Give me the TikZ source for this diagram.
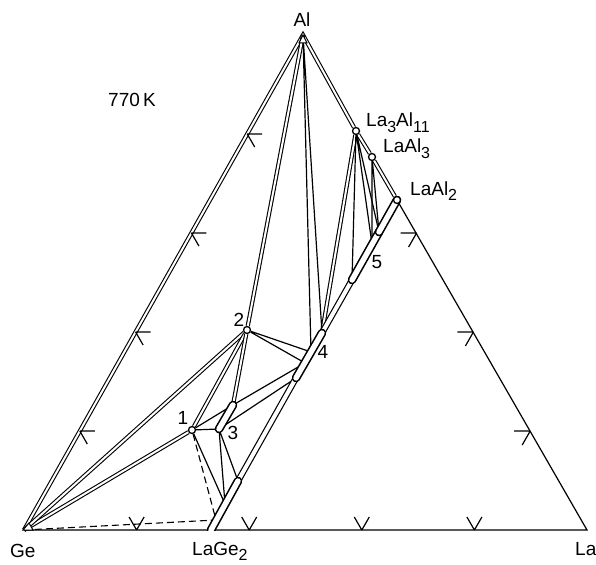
\documentclass[tikz,border=0pt]{standalone}
\usepackage{fontspec}
\setmainfont{Liberation Sans}
\usetikzlibrary{calc,backgrounds}
\newcommand{\lsub}[1]{\raisebox{-0.55ex}{\fontsize{16}{18}\selectfont#1}}
\tikzset{
  side/.style={line width=1.2pt},
  tie/.style={double,line width=1.1pt,double distance=2pt},
  tieline/.style={line width=1.2pt},
  guess/.style={line width=1.1pt,dash pattern=on 7pt off 4pt},
  solsol/.style={double,line width=1.2pt,double distance=4pt},
  homog/.style={double,line width=1.6pt,double distance=5.4pt,line cap=round},
  phase/.style={circle,draw,fill=white,line width=1.3pt,minimum size=7pt,inner sep=0pt},
  lbl/.style={font=\fontsize{19}{22}\selectfont,inner sep=0pt},
  corner/.style={fill=white,draw,line width=1pt}
}

\begin{document}
\begin{tikzpicture}[x=1pt,y=-1pt]
  \useasboundingbox (0,0) rectangle (596,564);

  % corners and points on the La(Ge,Al)2 line (pixel grid, y down)
  \coordinate (Ge) at (24,530);
  \coordinate (La) at (587,530);
  \coordinate (Al) at (303,35);
  \coordinate (LaGe2) at (211,530);
  \coordinate (g0) at (216,520);
  \coordinate (ge) at (225,504);
  \coordinate (g1) at (238,481);
  \coordinate (b4a) at (296,378);
  \coordinate (b4m) at (305,363);
  \coordinate (b4e) at (311,352);
  \coordinate (b4b) at (322,333);
  \coordinate (b5a) at (352,280);
  \coordinate (b5m) at (372,244);
  \coordinate (b5b) at (379,232);
  \coordinate (p3a) at (219,429);
  \coordinate (p3b) at (233,405);

  \node[phase] (LaAl2) at (397,200) {};
  \node[phase] (LaAl3) at (372,157) {};
  \node[phase] (La3Al11) at (356,131) {};
  \node[phase] (p1) at (192,430) {};
  \node[phase] (p2) at (247,330) {};

  \begin{scope}[on background layer]
    % triangle and ticks
    \draw[side] (Ge) -- (La) -- (LaAl2);
    \draw[tie] (Ge) -- (Al) -- (La3Al11) -- (LaAl3) -- (LaAl2);
    \foreach \f in {0.2,0.4,0.6,0.8} {
      \draw[side] ($(Ge)!\f!(Al)$) coordinate (t) -- ++(15,0) (t) -- ++(7.5,13);
      \draw[side] ($(Ge)!\f!(La)$) coordinate (t) -- ++(-7.5,-13) (t) -- ++(7.5,-13);
    }
    \foreach \f in {0.2,0.4,0.6}
      \draw[side] ($(La)!\f!(Al)$) coordinate (t) -- ++(-16,0) (t) -- ++(-8,14);

    % tie lines
    \draw[tie] (Ge) -- (p1);
    \draw[tie] (Ge) -- (p2);
    \draw[tie] (p1) -- (p2);
    \draw[tie] (Al) -- (p2);
    \draw[tie] (p2) -- (p3b);
    \draw[tie] (La3Al11) -- (b4b);
    \draw[tieline] (p1) -- (p3a) (p1) -- (p3b) (p1) -- (ge);
    \draw[tieline] (p3a) -- (ge) (p3a) -- (g1) (p3a) -- (b4a) (p3b) -- (b4m);
    \draw[tieline] (p2) -- (b4m) (p2) -- (b4e) (Al) -- (b4e) (Al) -- (b4b);
    \draw[tieline] (La3Al11) -- (b5a) (La3Al11) -- (b5m) (La3Al11) -- (b5b);
    \draw[tieline] (LaAl3) -- (b5m) (LaAl3) -- (b5b);
    \draw[guess] (Ge) -- (g0) (p1) -- (g0);

    % homogeneity ranges
    \draw[solsol] (g1) -- (b4a) (b4b) -- (b5a);
    \begin{scope}
      \clip (0,0) rectangle (596,530);
      \draw[homog] (LaGe2) -- (g1);
    \end{scope}
    \draw[homog] (p3a) -- (p3b);
    \draw[homog] (b4a) -- (b4b);
    \draw[homog] (b5a) -- (b5b);
    \draw[homog] (b5b) -- (LaAl2.center);
  \end{scope}

  \draw[corner] (Al) -- ++(-4,8) -- ++(8,0) -- cycle;
  \draw[corner] (Ge) ++(-1,0) -- ++(10,0) -- ++(-4,-7) -- cycle;

  % labels
  \node[lbl,anchor=base] (tAl) at (302,27) {Al};
  \node[lbl,anchor=base west] (tT) at (108,107) {770\,K};
  \node[lbl,anchor=base west] (tLa3Al11) at (366,127) {La\lsub{3}Al\lsub{11}};
  \node[lbl,anchor=base west] (tLaAl3) at (383,153) {LaAl\lsub{3}};
  \node[lbl,anchor=base west] (tLaAl2) at (410,195) {LaAl\lsub{2}};
  \node[lbl,anchor=base west] (tGe) at (10,557) {Ge};
  \node[lbl,anchor=base west] (tLaGe2) at (192,555) {LaGe\lsub{2}};
  \node[lbl,anchor=base west] (tLa) at (575,555) {La};
  \node[lbl] (t1) at (183,418) {1};
  \node[lbl] (t2) at (239,320) {2};
  \node[lbl] (t3) at (233,433) {3};
  \node[lbl] (t4) at (323,352) {4};
  \node[lbl] (t5) at (377,262) {5};
\end{tikzpicture}
\end{document}
